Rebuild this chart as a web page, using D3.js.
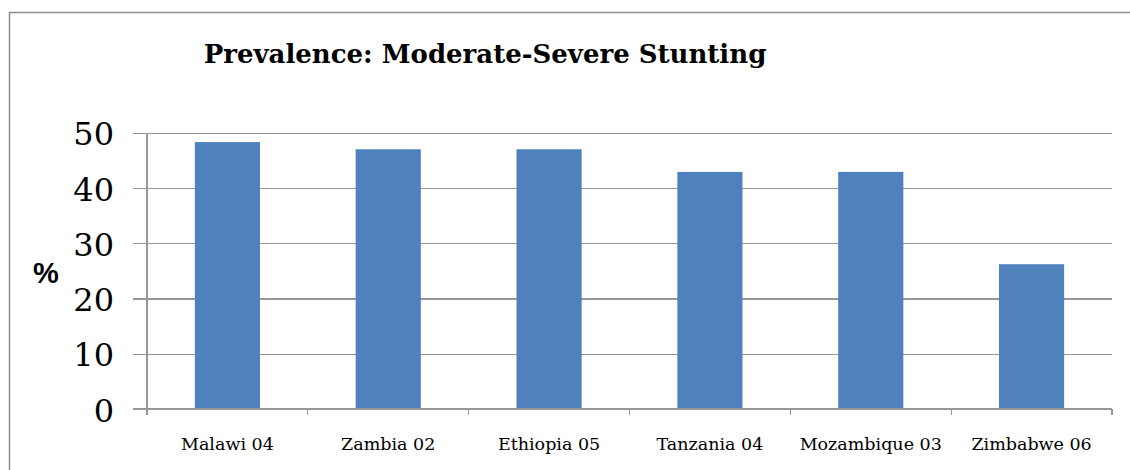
<!DOCTYPE html>
<html>
<head>
<meta charset="utf-8">
<script src="https://cdn.jsdelivr.net/npm/d3@7"></script>
<style>
  html, body { margin: 0; padding: 0; background: #fff; }
  svg { display: block; }
</style>
</head>
<body>
<svg id="chart" width="1130" height="470"></svg>
<script>
// Survey (country + year) and stunting prevalence, %
const categories = ["Malawi 04", "Zambia 02", "Ethiopia 05", "Tanzania 04", "Mozambique 03", "Zimbabwe 06"];
const prevalence = [48.3, 47.0, 47.0, 42.9, 42.9, 26.2];
const yTicks = [0, 10, 20, 30, 40, 50];
const titleText = "Prevalence: Moderate-Severe Stunting";
const yLabel = "%";

const svg = d3.select("#chart");
const W = 1130, H = 470;
const plot = { left: 147, right: 1112, top: 132.7, bottom: 409 };

// outer frame (only top and left edges fall inside the view)
svg.append("path")
  .attr("d", `M9.5,${H} V12.5 H${W}`)
  .attr("fill", "none")
  .attr("stroke", "#8c8c8c")
  .attr("stroke-width", 1.5);

const x = d3.scaleBand()
  .domain(categories)
  .range([plot.left, plot.right])
  .paddingInner(0.595)
  .paddingOuter(0.2975);

const y = d3.scaleLinear()
  .domain([0, 50])
  .range([plot.bottom, plot.top]);

// horizontal gridlines + left tick stubs, with value labels
const yAxis = svg.append("g")
  .attr("transform", `translate(${plot.left},0)`)
  .call(d3.axisLeft(y)
    .tickValues(yTicks)
    .tickSize(-(plot.right - plot.left))
    .tickSizeOuter(0)
    .tickPadding(33)
    .tickFormat(d3.format("d")));
yAxis.select(".domain").remove();
yAxis.selectAll(".tick line")
  .attr("x1", -14)
  .attr("stroke", "#979797")
  .attr("stroke-width", 1.2)
  .attr("shape-rendering", "crispEdges");
yAxis.selectAll(".tick text")
  .attr("font-family", "'DejaVu Serif', 'Liberation Serif', serif")
  .attr("font-size", 32)
  .attr("fill", "#000")
  .attr("dy", "0.38em");

// bars
svg.append("g")
  .selectAll("rect")
  .data(categories.map((c, i) => ({ c, v: prevalence[i] })))
  .join("rect")
  .attr("x", d => x(d.c))
  .attr("width", x.bandwidth())
  .attr("y", d => y(d.v))
  .attr("height", d => y(0) - y(d.v))
  .attr("fill", "#4f81bd");

// vertical axis line
svg.append("line")
  .attr("x1", plot.left).attr("x2", plot.left)
  .attr("y1", plot.top).attr("y2", plot.bottom + 6)
  .attr("stroke", "#979797")
  .attr("stroke-width", 1.2)
  .attr("shape-rendering", "crispEdges");

// category axis: baseline, boundary ticks, labels
const step = x.step();
const bounds = d3.range(categories.length + 1).map(i => plot.left + i * step);
const xAxisG = svg.append("g");
xAxisG.append("line")
  .attr("x1", plot.left - 14).attr("x2", plot.right)
  .attr("y1", plot.bottom).attr("y2", plot.bottom)
  .attr("stroke", "#979797")
  .attr("stroke-width", 1.2)
  .attr("shape-rendering", "crispEdges");
xAxisG.selectAll("line.bt")
  .data(bounds.slice(1))
  .join("line")
  .attr("class", "bt")
  .attr("x1", d => d).attr("x2", d => d)
  .attr("y1", plot.bottom).attr("y2", plot.bottom + 6)
  .attr("stroke", "#979797")
  .attr("stroke-width", 1.2)
  .attr("shape-rendering", "crispEdges");
xAxisG.selectAll("text")
  .data(categories)
  .join("text")
  .attr("x", d => x(d) + x.bandwidth() / 2)
  .attr("y", 450)
  .attr("text-anchor", "middle")
  .attr("font-family", "'DejaVu Serif', 'Liberation Serif', serif")
  .attr("font-size", 17.5)
  .attr("fill", "#000")
  .text(d => d);

// title
svg.append("text")
  .attr("x", 485)
  .attr("y", 63)
  .attr("text-anchor", "middle")
  .attr("font-family", "'DejaVu Serif', 'Liberation Serif', serif")
  .attr("font-weight", "bold")
  .attr("font-size", 26)
  .attr("fill", "#000")
  .text(titleText);

// y-axis unit label
svg.append("text")
  .attr("x", 46)
  .attr("y", 283)
  .attr("text-anchor", "middle")
  .attr("font-family", "'Liberation Sans', Arial, sans-serif")
  .attr("font-weight", "bold")
  .attr("font-size", 29)
  .attr("fill", "#000")
  .text(yLabel);
</script>
</body>
</html>
